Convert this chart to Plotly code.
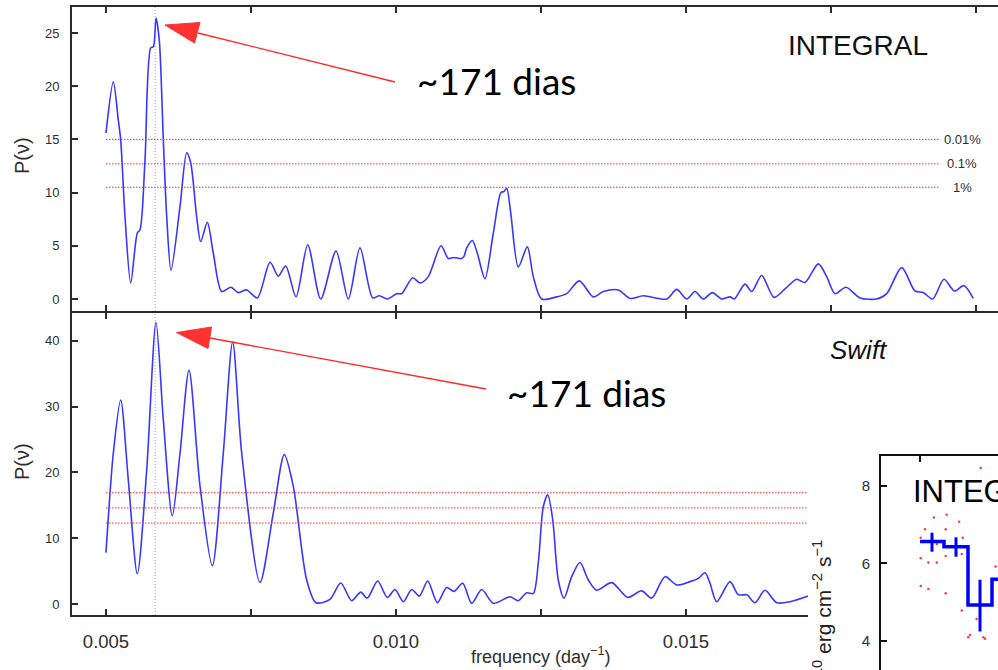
import plotly.graph_objects as go

W, H = 998, 670

# ---------------- data ----------------
# INTEGRAL Lomb-Scargle periodogram (top panel)
freq_integral = [0.005000, 0.005126, 0.005212, 0.005253, 0.005328, 0.005426, 0.005540, 0.005586,
                 0.005672, 0.005771, 0.005816, 0.005862, 0.005919, 0.005988, 0.006047, 0.006121,
                 0.006276, 0.006391, 0.006460, 0.006564, 0.006633, 0.006747, 0.006850, 0.006995,
                 0.007155, 0.007281, 0.007426, 0.007609, 0.007828, 0.007971, 0.008098, 0.008276,
                 0.008478, 0.008702, 0.008966, 0.009178, 0.009379, 0.009598, 0.009712, 0.009850,
                 0.010012, 0.010098, 0.010288, 0.010414, 0.010557, 0.010776, 0.010902, 0.010988,
                 0.011133, 0.011172, 0.011219, 0.011316, 0.011402, 0.011534, 0.011678, 0.011810,
                 0.011862, 0.011909, 0.011978, 0.012109, 0.012264, 0.012367, 0.012512, 0.012771,
                 0.012943, 0.013160, 0.013402, 0.013574, 0.013833, 0.014034, 0.014264, 0.014667,
                 0.014840, 0.015012, 0.015155, 0.015298, 0.015453, 0.015616, 0.015759, 0.015833,
                 0.016017, 0.016133, 0.016305, 0.016517, 0.016736, 0.016909, 0.017052, 0.017281,
                 0.017426, 0.017569, 0.017759, 0.018000, 0.018288, 0.018460, 0.018719, 0.018948,
                 0.019091, 0.019253, 0.019448, 0.019626, 0.019793, 0.019953]
power_integral = [15.6, 20.4, 16.8, 15.0, 7.7, 1.5, 6.2, 6.5,
                  13.0, 23.6, 23.7, 26.4, 24.3, 15.0, 7.7, 2.7,
                  8.7, 13.75, 12.8, 7.7, 5.4, 7.2, 4.3, 0.7,
                  1.1, 0.6, 0.85, 0.1, 3.45, 2.15, 3.1, 0.2,
                  5.1, 0.0, 4.5, 0.0, 4.8, 0.1, 0.3, 0.0,
                  0.5, 0.5, 2.0, 1.5, 2.1, 5.0, 3.8, 3.9,
                  3.8, 4.0, 4.8, 5.5, 4.3, 1.9, 6.2, 10.0,
                  10.1, 10.4, 8.1, 3.0, 4.9, 2.1, 0.0, 0.2,
                  0.5, 1.7, 0.2, 0.7, 0.85, 0.05, 0.3, 0.0,
                  0.9, 0.0, 0.7, 0.0, 0.6, 0.0, 0.2, 0.0,
                  1.4, 0.7, 2.2, 0.15, 1.1, 1.85, 1.55, 3.3,
                  2.1, 0.5, 1.1, 0.1, 0.0, 0.5, 2.95, 0.75,
                  0.6, 0.0, 1.85, 0.75, 1.25, 0.05]

# Swift periodogram (bottom panel)
freq_swift = [0.005000, 0.005126, 0.005253, 0.005384, 0.005540, 0.005702, 0.005862, 0.005988,
              0.006143, 0.006276, 0.006431, 0.006621, 0.006833, 0.007022, 0.007184, 0.007340,
              0.007655, 0.007884, 0.008074, 0.008229, 0.008460, 0.008621, 0.008862, 0.009047,
              0.009236, 0.009391, 0.009505, 0.009684, 0.009850, 0.009983, 0.010126, 0.010271,
              0.010402, 0.010547, 0.010712, 0.010874, 0.011000, 0.011150, 0.011305, 0.011478,
              0.011678, 0.011966, 0.012109, 0.012253, 0.012367, 0.012453, 0.012540, 0.012616,
              0.012702, 0.012798, 0.012897, 0.013029, 0.013172, 0.013316, 0.013460, 0.013719,
              0.013995, 0.014236, 0.014409, 0.014638, 0.014840, 0.015069, 0.015212, 0.015328,
              0.015414, 0.015529, 0.015759, 0.015902, 0.016047, 0.016190, 0.016362, 0.016564,
              0.016793, 0.017109]
power_swift = [7.8, 22.9, 31.0, 18.9, 4.6, 20.4, 42.8, 28.0,
               13.4, 22.9, 35.5, 17.9, 5.8, 22.9, 39.8, 22.9,
               3.3, 13.8, 22.7, 17.9, 3.65, 0.2, 0.7, 3.2,
               0.5, 1.8, 0.9, 3.5, 1.0, 2.2, 0.35, 2.2,
               1.2, 3.5, 0.2, 2.5, 1.9, 3.15, 0.1, 2.2,
               0.1, 1.1, 0.5, 1.7, 1.6, 6.2, 14.8, 16.6,
               12.8, 3.65, 0.9, 4.15, 6.3, 3.65, 2.1, 3.25,
               1.0, 2.0, 0.9, 4.15, 2.9, 3.4, 3.9, 4.75,
               3.15, 0.35, 3.4, 1.4, 1.4, 0.2, 2.1, 0.2,
               0.35, 1.2]

# false-alarm probability levels
thr_integral = [15.0, 12.7, 10.5]
thr_integral_labels = ["0.01%", "0.1%", "1%"]
thr_swift = [16.9, 14.6, 12.3]
thr_start = 0.005
thr_integral_end = 0.01938
thr_swift_end = 0.01711

period_days = 171
peak_freq = 1.0 / period_days

x_tickvals = [0.005, 0.0075, 0.010, 0.0125, 0.015, 0.0175, 0.020]
x_ticktext = ["0.005", "", "0.010", "", "0.015", "", ""]
y_top_ticks = [0, 5, 10, 15, 20, 25]
y_bot_ticks = [0, 10, 20, 30, 40]

# inset light curve (folded)
inset_edges = [0.0, 0.1, 0.2, 0.3, 0.4]
inset_levels = [6.56, 6.43, 4.93, 5.59, 5.59]
inset_centers = [0.05, 0.15, 0.25]
inset_center_flux = [6.56, 6.43, 4.93]
inset_err_up = [0.23, 0.24, 0.65]
inset_err_dn = [0.26, 0.26, 0.68]
inset_pts_x = [0.253, 0.058, 0.111, 0.021, 0.107, 0.163, 0.003, 0.178, 0.070, 0.174, 0.107, 0.003,
               0.035, 0.070, 0.315, 0.003, 0.035, 0.107, 0.174, 0.236, 0.208, 0.264, 0.201, 0.271]
inset_pts_y = [8.45, 7.18, 7.25, 6.88, 6.88, 7.07, 6.66, 6.66, 6.50, 6.24, 6.19, 6.13,
               6.02, 6.02, 5.92, 5.42, 5.34, 5.23, 4.79, 4.57, 4.16, 4.10, 4.10, 4.06]

# ---------------- geometry helpers (layout only) ----------------
def px(x):
    return x / W

def py(y):
    return 1 - y / H

PPF = 58000.0          # pixels per frequency unit
X0PX = 106.0           # pixel of f = 0.005
def f_at(p):
    return 0.005 + (p - X0PX) / PPF

AX = "#2b2b2b"
TICKC = "#2e2e2e"
FONT = "Liberation Sans, Arial, sans-serif"
BLUE = "rgb(55,55,255)"
RED = "rgb(255,40,40)"
LW = 1.8

fig = go.Figure()

# top periodogram
fig.add_trace(go.Scatter(x=freq_integral, y=power_integral, mode="lines",
                         line=dict(color=BLUE, width=1.6, shape="spline", smoothing=0.8),
                         xaxis="x", yaxis="y", hoverinfo="skip"))
for t in thr_integral:
    fig.add_trace(go.Scatter(x=[thr_start, thr_integral_end], y=[t, t], mode="lines",
                             line=dict(color=RED, width=1, dash="1.5px,1.5px"),
                             xaxis="x", yaxis="y", hoverinfo="skip"))

# bottom periodogram
fig.add_trace(go.Scatter(x=freq_swift, y=power_swift, mode="lines",
                         line=dict(color=BLUE, width=1.6, shape="spline", smoothing=0.8),
                         xaxis="x2", yaxis="y2", hoverinfo="skip"))
for t in thr_swift:
    fig.add_trace(go.Scatter(x=[thr_start, thr_swift_end], y=[t, t], mode="lines",
                             line=dict(color=RED, width=1, dash="1.5px,1.5px"),
                             xaxis="x2", yaxis="y2", hoverinfo="skip"))

# inset
fig.add_trace(go.Scatter(x=inset_pts_x, y=inset_pts_y, mode="markers",
                         marker=dict(color="rgb(255,60,60)", size=2.5),
                         xaxis="x3", yaxis="y3", hoverinfo="skip"))
fig.add_trace(go.Scatter(x=inset_edges, y=inset_levels, mode="lines",
                         line=dict(color="#0000ff", width=3.5, shape="hv"),
                         xaxis="x3", yaxis="y3", hoverinfo="skip"))
fig.add_trace(go.Scatter(x=inset_centers, y=inset_center_flux, mode="markers",
                         marker=dict(color="#0000ff", size=1),
                         error_y=dict(type="data", symmetric=False, array=inset_err_up,
                                      arrayminus=inset_err_dn, color="#0000ff",
                                      thickness=3, width=0),
                         xaxis="x3", yaxis="y3", hoverinfo="skip"))

top_dom = [py(311), py(7)]
bot_top_px = 311 + LW
bot_dom = [py(615), py(bot_top_px)]
bot_scale = 6.5825
bot_range = [-(615 - 604) / bot_scale, (604 - bot_top_px) / bot_scale]

common_x = dict(showline=True, linecolor=AX, linewidth=LW, mirror="ticks", ticks="inside",
                ticklen=6, tickwidth=1.5, tickcolor=AX, tickvals=x_tickvals,
                showgrid=False, zeroline=False)
common_y = dict(showline=True, linecolor=AX, linewidth=LW, ticks="inside", ticklen=6,
                tickwidth=1.5, tickcolor=AX, showgrid=False, zeroline=False,
                tickfont=dict(family=FONT, size=13, color=TICKC), ticklabelstandoff=8)

fig.update_layout(
    width=W, height=H, margin=dict(l=0, r=0, t=0, b=0),
    paper_bgcolor="white", plot_bgcolor="rgba(0,0,0,0)", showlegend=False,
    xaxis=dict(domain=[px(72), 1.0], range=[f_at(72), f_at(998)], anchor="y",
               showticklabels=False, **common_x),
    yaxis=dict(domain=top_dom, range=[-1.13, 27.44], anchor="x", tickvals=y_top_ticks,
               **common_y),
    xaxis2=dict(domain=[px(72), px(808)], range=[f_at(72), f_at(808)], anchor="y2",
                ticktext=x_ticktext, tickfont=dict(family=FONT, size=18.5, color=TICKC),
                ticklabelstandoff=9, **common_x),
    yaxis2=dict(domain=bot_dom, range=bot_range, anchor="x2", tickvals=y_bot_ticks,
                **common_y),
    xaxis3=dict(domain=[px(881), 1.0], range=[-0.1625, 0.325], anchor="y3", side="top",
                showline=True, linecolor="#111", linewidth=2, ticks="inside", ticklen=6,
                tickwidth=1.5, tickcolor="#111", tickvals=[0], showticklabels=False,
                showgrid=False, zeroline=False),
    yaxis3=dict(domain=[0, py(456)], range=[3.26, 8.76], anchor="x3",
                showline=True, linecolor="#111", linewidth=2, ticks="inside", ticklen=6,
                tickwidth=1.5, tickcolor="#111", tickvals=[4, 6, 8], showgrid=False,
                zeroline=False, tickfont=dict(family=FONT, size=15, color=TICKC),
                ticklabelstandoff=6),
)

# shared border between the two periodograms, running the full width
fig.add_shape(type="line", xref="paper", yref="paper", x0=px(72), x1=1.0,
              y0=py(311 + LW / 2), y1=py(311 + LW / 2), line=dict(color=AX, width=LW))

# vertical line at the 171 d frequency
for xr, yr in (("x", "y domain"), ("x2", "y2 domain")):
    fig.add_shape(type="line", xref=xr, yref=yr, x0=peak_freq, x1=peak_freq, y0=0, y1=1,
                  line=dict(color="#aaaaaa", width=1, dash="1px,2px"), layer="below")

# arrows (line + filled triangular head)
def arrow(tail, base, tip, c1, c2):
    fig.add_shape(type="line", xref="paper", yref="paper",
                  x0=px(tail[0]), y0=py(tail[1]), x1=px(base[0]), y1=py(base[1]),
                  line=dict(color=RED, width=1.3))
    path = "M {} {} L {} {} L {} {} Z".format(px(tip[0]), py(tip[1]), px(c1[0]), py(c1[1]),
                                               px(c2[0]), py(c2[1]))
    fig.add_shape(type="path", xref="paper", yref="paper", path=path,
                  fillcolor="rgb(255,50,50)", line=dict(color="rgb(255,50,50)", width=1))

arrow((395, 82), (198, 33), (165, 25), (200, 22.5), (194.5, 43))
arrow((486, 389), (210, 338), (176.5, 332.5), (211.5, 327), (208, 348.5))

def note(text, x, y, size, family=FONT, color="black", xanchor="center", angle=0):
    fig.add_annotation(text=text, x=px(x), y=py(y), xref="paper", yref="paper",
                       showarrow=False, xanchor=xanchor, yanchor="middle", textangle=angle,
                       font=dict(family=family, size=size, color=color))

note("~171 dias", 496.5, 80, 37, family="Lato, sans-serif")
note("~171 dias", 586.5, 392, 37, family="Lato, sans-serif")
note("INTEGRAL", 858, 45.5, 28, color="#111")
note("<i>Swift</i>", 859, 350, 26, color="#111")
for t, lab in zip(thr_integral, thr_integral_labels):
    note(lab, 962, 299 - t * 10.64, 13, color=TICKC)
note("P(\u03bd)", 22, 156, 20, color=TICKC, angle=-90)
note("P(\u03bd)", 22, 462, 20, color=TICKC, angle=-90)
note("frequency (day<sup>\u22121</sup>)", 540, 655, 18, color=TICKC)
note("INTEGRAL", 911, 491, 31, color="black", xanchor="left")
fig.add_annotation(text="10<sup>\u221210</sup> erg cm<sup>\u22122</sup> s<sup>\u22121</sup>",
                   x=px(822), y=py(538), xref="paper", yref="paper", showarrow=False,
                   xanchor="center", yanchor="top", textangle=-90,
                   font=dict(family=FONT, size=21, color="#222"))

fig.write_html("out.html", config={"displayModeBar": False},
               post_script="document.body.style.margin='0';document.body.style.overflow='hidden';")
